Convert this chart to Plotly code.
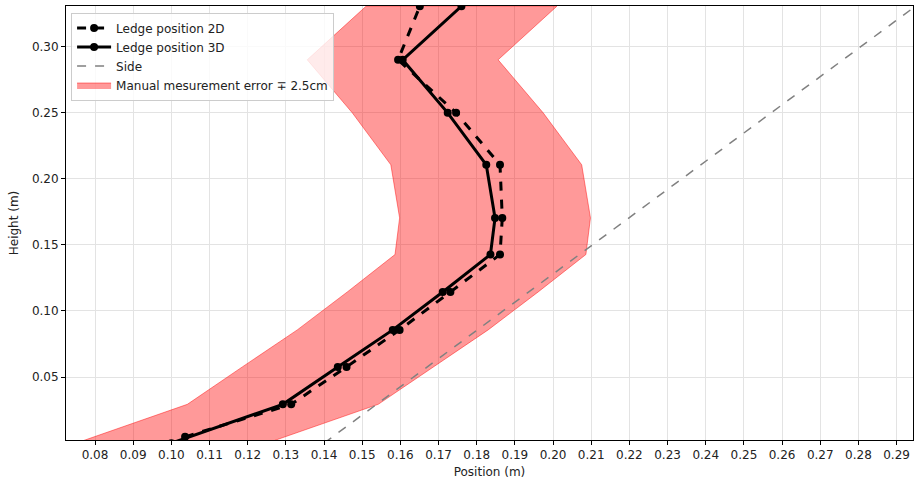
import plotly.graph_objects as go

# Data
h3d = [0.0000, 0.0294, 0.0577, 0.0857, 0.1144, 0.1427, 0.1704, 0.2106, 0.2499, 0.2900, 0.3305]
x3d = [0.1000, 0.1292, 0.1436, 0.1580, 0.1711, 0.1836, 0.1848, 0.1825, 0.1724, 0.1606, 0.1760]
h2d = [0.0048, 0.0294, 0.0577, 0.0857, 0.1144, 0.1427, 0.1704, 0.2106, 0.2499, 0.2900, 0.3305]
x2d = [0.1036, 0.1314, 0.1459, 0.1598, 0.1731, 0.1861, 0.1867, 0.1861, 0.1746, 0.1594, 0.1651]
side_x = [0.140, 0.300]
side_y = [0.000, 0.3413]
err = 0.025
x_ticks = [round(0.08 + 0.01 * i, 2) for i in range(22)]
y_ticks = [0.05, 0.10, 0.15, 0.20, 0.25, 0.30]

band_x = [v - err for v in x3d] + [v + err for v in x3d][::-1]
band_y = h3d + h3d[::-1]

fig = go.Figure()
fig.add_trace(go.Scatter(
    x=band_x, y=band_y, fill="toself", mode="lines",
    fillcolor="rgba(255,0,0,0.4)", line=dict(color="rgba(255,0,0,0.45)", width=1),
    name="Manual mesurement error \u2213 2.5cm", legendrank=4, hoverinfo="skip"))
fig.add_trace(go.Scatter(
    x=side_x, y=side_y, mode="lines",
    line=dict(color="gray", width=1.5, dash="dash"),
    name="Side", legendrank=3))
fig.add_trace(go.Scatter(
    x=x2d, y=h2d, mode="lines+markers",
    line=dict(color="black", width=3, dash="dash"),
    marker=dict(color="black", size=8),
    name="Ledge position 2D", legendrank=1))
fig.add_trace(go.Scatter(
    x=x3d, y=h3d, mode="lines+markers",
    line=dict(color="black", width=3),
    marker=dict(color="black", size=8),
    name="Ledge position 3D", legendrank=2))

axis_common = dict(
    showline=True, mirror=True, linecolor="black", linewidth=1,
    ticks="outside", ticklen=4, tickcolor="black", tickwidth=1,
    showgrid=True, gridcolor="#e3e3e3", gridwidth=1, zeroline=False,
    tickfont=dict(family="DejaVu Sans", size=12, color="#222"),
)

fig.update_layout(
    width=915, height=480,
    margin=dict(l=66, r=2, t=6, b=40),
    plot_bgcolor="white", paper_bgcolor="white",
    font=dict(family="DejaVu Sans", size=12, color="#222"),
    showlegend=True,
    legend=dict(
        x=0.006, y=0.985, xanchor="left", yanchor="top",
        bgcolor="rgba(255,255,255,0.8)", bordercolor="#cccccc", borderwidth=1,
        font=dict(family="DejaVu Sans", size=12, color="#222"),
        itemwidth=34, tracegroupgap=0,
    ),
    xaxis=dict(range=[0.0724, 0.2943], tickvals=x_ticks,
               ticktext=[f"{v:.2f}" for v in x_ticks],
               title=dict(text="Position (m)", standoff=6, font=dict(size=12)),
               **axis_common),
    yaxis=dict(range=[0.0024, 0.3307], tickvals=y_ticks,
               ticktext=[f"{v:.2f}" for v in y_ticks],
               title=dict(text="Height (m)", standoff=10, font=dict(size=12)),
               **axis_common),
)

fig.write_html("out.html", config={"displayModeBar": False},
               post_script="document.body.style.margin='0px';")
